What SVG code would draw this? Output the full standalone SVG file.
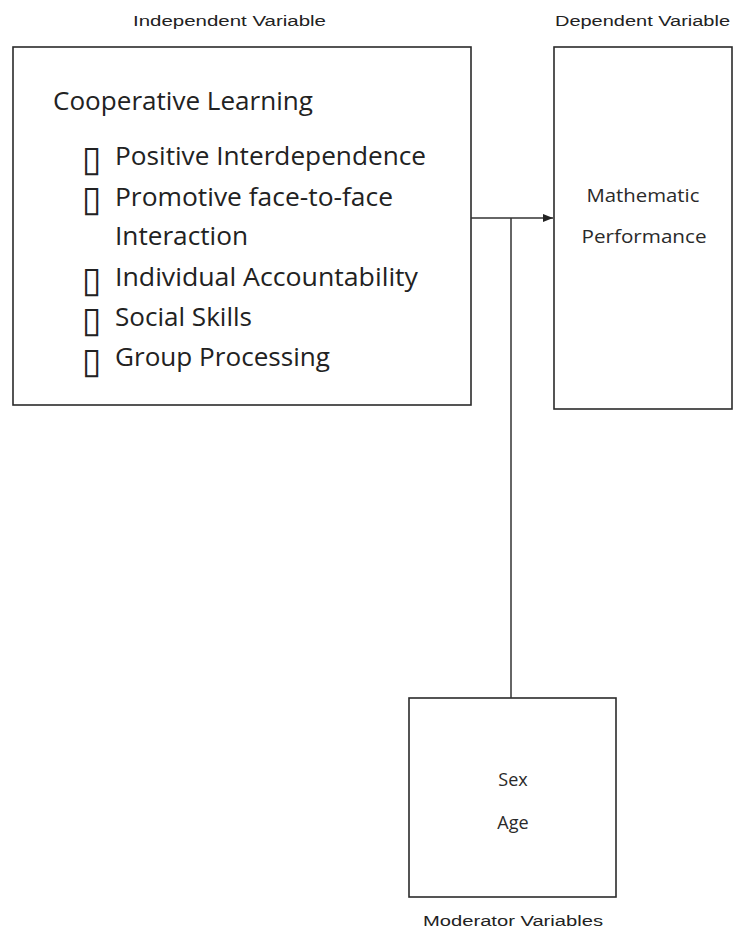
<svg xmlns="http://www.w3.org/2000/svg" width="733" height="931" viewBox="0 0 733 931">
<defs>
<style>
.box{fill:#fff;stroke:#2b2b2b;stroke-width:1.6}
.conn{fill:none;stroke:#333;stroke-width:1.5}
.lbl{font-family:"Liberation Sans",Arial,sans-serif;font-size:14px;fill:#222}
.big{font-family:"Open Sans","Noto Sans",sans-serif;font-size:26px;fill:#222}
.bul{font-family:"DejaVu Sans",sans-serif;font-size:36px;fill:#222}
.mid{font-family:"Open Sans","Noto Sans",sans-serif;font-size:18px;fill:#2a2a2a}
</style>
<marker id="arr" viewBox="0 0 10 10" refX="10" refY="5" markerWidth="10" markerHeight="10" markerUnits="userSpaceOnUse" orient="auto">
<path d="M0,1 L10,5 L0,9 Z" fill="#222"/>
</marker>
</defs>
<rect width="733" height="931" fill="#fff"/>
<g id="independent">
<text class="lbl" x="133" y="26" textLength="193" lengthAdjust="spacingAndGlyphs">Independent Variable</text>
<rect class="box" x="13" y="47" width="458" height="358"/>
<text class="big" x="53" y="110" textLength="260" lengthAdjust="spacingAndGlyphs">Cooperative Learning</text>
<text class="bul" x="82" y="171">▯</text>
<text class="big" x="115" y="165" textLength="311" lengthAdjust="spacingAndGlyphs">Positive Interdependence</text>
<text class="bul" x="82" y="211">▯</text>
<text class="big" x="115" y="206" textLength="278" lengthAdjust="spacingAndGlyphs">Promotive face-to-face</text>
<text class="big" x="115" y="245" textLength="133" lengthAdjust="spacingAndGlyphs">Interaction</text>
<text class="bul" x="82" y="292">▯</text>
<text class="big" x="115" y="286" textLength="303" lengthAdjust="spacingAndGlyphs">Individual Accountability</text>
<text class="bul" x="82" y="332">▯</text>
<text class="big" x="115" y="326" textLength="137" lengthAdjust="spacingAndGlyphs">Social Skills</text>
<text class="bul" x="82" y="373">▯</text>
<text class="big" x="115" y="366" textLength="215" lengthAdjust="spacingAndGlyphs">Group Processing</text>
</g>
<g id="dependent">
<text class="lbl" x="555" y="26" textLength="175" lengthAdjust="spacingAndGlyphs">Dependent Variable</text>
<rect class="box" x="554" y="47" width="178" height="362"/>
<text class="mid" x="643" y="202" text-anchor="middle" textLength="113" lengthAdjust="spacingAndGlyphs">Mathematic</text>
<text class="mid" x="644" y="243" text-anchor="middle" textLength="125" lengthAdjust="spacingAndGlyphs">Performance</text>
</g>
<g id="moderator">
<rect class="box" x="409" y="698" width="207" height="199"/>
<text class="mid" x="513" y="786" text-anchor="middle">Sex</text>
<text class="mid" x="513" y="829" text-anchor="middle">Age</text>
<text class="lbl" x="423" y="926" textLength="180" lengthAdjust="spacingAndGlyphs">Moderator Variables</text>
</g>
<g id="connectors">
<line class="conn" x1="471" y1="218" x2="553" y2="218" marker-end="url(#arr)"/>
<line class="conn" x1="511" y1="218" x2="511" y2="698"/>
</g>
</svg>
